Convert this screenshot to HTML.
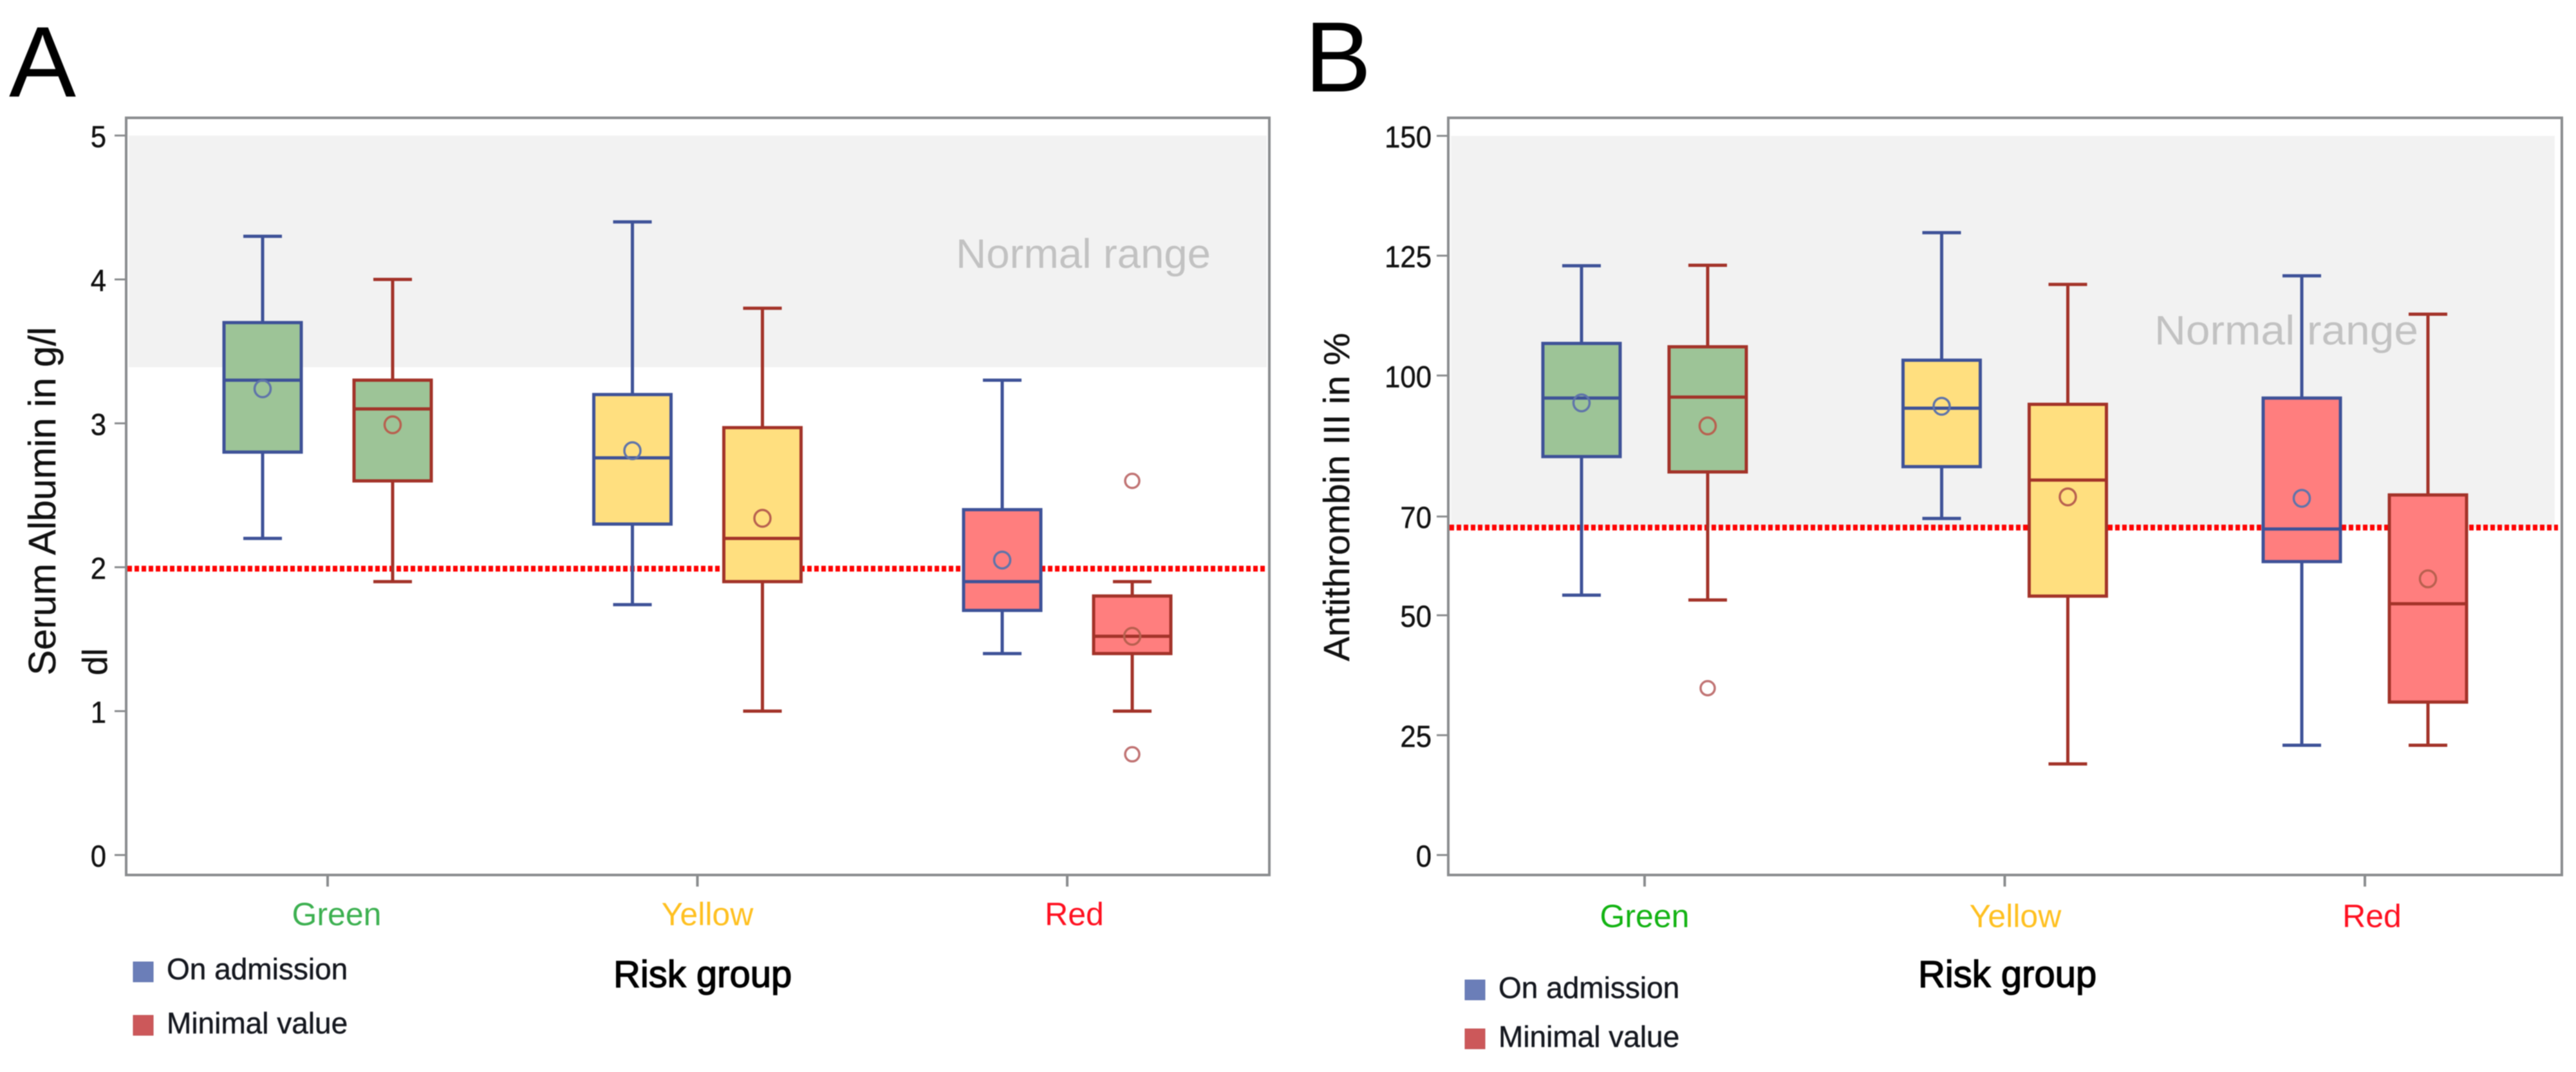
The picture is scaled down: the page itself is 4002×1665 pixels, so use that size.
<!DOCTYPE html>
<html lang="en">
<head>
<meta charset="utf-8">
<title>Serum Albumin and Antithrombin III by risk group</title>
<style>
  html, body { margin: 0; padding: 0; background: #fff; }
  #figure { display: block; filter: blur(0.8px); }
  text { font-family: "Liberation Sans", sans-serif; }
</style>
</head>
<body>
<svg id="figure" xmlns="http://www.w3.org/2000/svg" width="4002" height="1665" viewBox="0 0 4002 1665">
  <rect x="0" y="0" width="4002" height="1665" fill="#ffffff"/>

  <text x="14" y="150" font-size="156" fill="#000">A</text>
  <g id="a-back"></g>
  <text x="1485" y="416" font-size="64" fill="#c2c2c2" textLength="396" lengthAdjust="spacingAndGlyphs">Normal range</text>
  <g id="a-marks"></g>
  <text transform="translate(86,1049) rotate(-90)" font-size="59" fill="#111" stroke="#111" stroke-width="0.4">Serum Albumin in g/l</text>
  <text transform="translate(166,1049) rotate(-90)" font-size="54" fill="#111" stroke="#111" stroke-width="0.4">dl</text>
  <text x="953" y="1533" font-size="58" fill="#000" stroke="#000" stroke-width="1.4">Risk group</text>
  <rect x="207" y="1494" width="31" height="31" fill="#6b7eb8" stroke="#5f72ae" stroke-width="1"/>
  <text x="259" y="1521" font-size="46" fill="#15181f" stroke="#15181f" stroke-width="0.5">On admission</text>
  <rect x="207" y="1577" width="31" height="31" fill="#cc585a" stroke="#c05052" stroke-width="1"/>
  <text x="259" y="1605" font-size="46" fill="#15181f" stroke="#15181f" stroke-width="0.5">Minimal value</text>

  <text x="2027" y="142" font-size="155" fill="#000">B</text>
  <g id="b-back"></g>
  <text x="3347" y="535" font-size="64" fill="#c2c2c2" textLength="410" lengthAdjust="spacingAndGlyphs">Normal range</text>
  <g id="b-marks"></g>
  <text transform="translate(2096,1027) rotate(-90)" font-size="57" fill="#111" stroke="#111" stroke-width="0.4">Antithrombin III in %</text>
  <text x="2980" y="1533" font-size="58" fill="#000" stroke="#000" stroke-width="1.4">Risk group</text>
  <rect x="2276" y="1522" width="31" height="31" fill="#6b7eb8" stroke="#5f72ae" stroke-width="1"/>
  <text x="2328" y="1550" font-size="46" fill="#15181f" stroke="#15181f" stroke-width="0.5">On admission</text>
  <rect x="2276" y="1598" width="31" height="31" fill="#cc585a" stroke="#c05052" stroke-width="1"/>
  <text x="2328" y="1626" font-size="46" fill="#15181f" stroke="#15181f" stroke-width="0.5">Minimal value</text>
</svg>

<script>
// ---- shared categories ----
const categories = ['Green', 'Yellow', 'Red'];
const seriesKeys = ['on-admission', 'minimal-value'];

// ---- Panel A: Serum Albumin ----
const aTicks = [0, 1, 2, 3, 4, 5];
const aTickLabels = ['0', '1', '2', '3', '4', '5'];
const aNormalRange = [3.39, 5];
const aReference = [1.99];
const aAdmHigh = [4.3, 4.4, 3.3];
const aAdmQ3 = [3.7, 3.2, 2.4];
const aAdmMedian = [3.3, 2.76, 1.9];
const aAdmQ1 = [2.8, 2.3, 1.7];
const aAdmLow = [2.2, 1.74, 1.4];
const aAdmMean = [3.24, 2.81, 2.05];
const aAdmOutliers = [[], [], []];
const aMinHigh = [4.0, 3.8, 1.9];
const aMinQ3 = [3.3, 2.97, 1.8];
const aMinMedian = [3.1, 2.2, 1.52];
const aMinQ1 = [2.6, 1.9, 1.4];
const aMinLow = [1.9, 1.0, 1.0];
const aMinMean = [2.99, 2.34, 1.52];
const aMinOutliers = [[], [], [2.6, 0.7]];

// ---- Panel B: Antithrombin III ----
const bTicks = [0, 25, 50, 70.6, 100, 125, 150];
const bTickLabels = ['0', '25', '50', '70', '100', '125', '150'];
const bNormalRange = [68.3, 150];
const bReference = [68.3];
const bAdmHigh = [122.9, 129.8, 120.8];
const bAdmQ3 = [106.7, 103.2, 95.3];
const bAdmMedian = [95.3, 93.2, 68];
const bAdmQ1 = [83.1, 81, 61.2];
const bAdmLow = [54.2, 70.2, 22.9];
const bAdmMean = [94.3, 93.6, 74.4];
const bAdmOutliers = [[], [], []];
const bMinHigh = [123, 119, 112.8];
const bMinQ3 = [106, 94, 75.1];
const bMinMedian = [95.5, 78.2, 52.4];
const bMinQ1 = [79.9, 54, 31.9];
const bMinLow = [53.2, 19, 22.9];
const bMinMean = [89.5, 74.7, 57.6];
const bMinOutliers = [[34.8], [], []];

const SVG_NS = 'http://www.w3.org/2000/svg';
const categoryFills = ['#9dc497', '#ffdf7f', '#ff7e7e'];
const seriesStrokes = ['#3e5298', '#a33329'];
const meanStrokes = ['#5f74aa', '#b8604f'];
const outlierStroke = '#c07272';
const axisColor = '#8a8c8e';

function mk(parent, tag, attrs, text) {
  const node = document.createElementNS(SVG_NS, tag);
  for (const key in attrs) node.setAttribute(key, attrs[key]);
  if (text !== undefined) node.textContent = text;
  parent.appendChild(node);
  return node;
}

function drawPanel(cfg) {
  const back = document.getElementById(cfg.id + '-back');
  const marks = document.getElementById(cfg.id + '-marks');
  const yScale = v => cfg.y0 - v * cfg.yUnit;
  const groupX = i => cfg.xStart + i * cfg.xStep;
  const boxX = (i, s) => groupX(i) + (s === 0 ? -cfg.offset : cfg.offset);

  // normal range band
  const band = mk(back, 'rect', {
    x: cfg.left + 4, y: yScale(cfg.normal[1]),
    width: cfg.right - cfg.left - 4 - cfg.bandInset, height: yScale(cfg.normal[0]) - yScale(cfg.normal[1]),
    fill: '#f2f2f2'
  });
  
  

  // frame
  const frame = mk(back, 'rect', {
    x: cfg.left, y: cfg.top, width: cfg.right - cfg.left, height: cfg.bottom - cfg.top,
    fill: 'none', stroke: axisColor, 'stroke-width': 4
  });
  
  

  // y ticks
  cfg.ticks.forEach((t, i) => {
    const y = yScale(t);
    const tick = mk(back, 'line', { x1: cfg.left - 18, x2: cfg.left, y1: y, y2: y, stroke: axisColor, 'stroke-width': 3 });
    
    
    const label = mk(back, 'text', {
      x: cfg.left - cfg.labelGap, y: y + 18, 'font-size': 47, 'text-anchor': 'end', fill: '#111',
      stroke: '#111', 'stroke-width': 0.5,
      textLength: cfg.tickLabels[i].length * 24.3, lengthAdjust: 'spacingAndGlyphs'
    }, cfg.tickLabels[i]);
    
    
  });

  // x ticks and category labels
  categories.forEach((c, i) => {
    const x = groupX(i);
    const tick = mk(back, 'line', { x1: x, x2: x, y1: cfg.bottom, y2: cfg.bottom + 18, stroke: axisColor, 'stroke-width': 4 });
    
    
    const label = mk(back, 'text', {
      x: cfg.labelX[i], y: cfg.labelY, 'font-size': 50, 'text-anchor': 'middle', fill: cfg.labelColors[i]
    }, c);
    
    
  });

  // reference line
  const ref = mk(back, 'line', {
    x1: cfg.left + 2, x2: cfg.right - 6, y1: yScale(cfg.reference[0]), y2: yScale(cfg.reference[0]),
    stroke: '#ff0000', 'stroke-width': 9, 'stroke-dasharray': '7 4'
  });
  
  

  // boxes
  cfg.series.forEach((series, s) => {
    categories.forEach((c, i) => {
      const x = boxX(i, s);
      const stroke = seriesStrokes[s];
      const tag = c.toLowerCase() + '-' + seriesKeys[s];

      const whisker = mk(marks, 'line', { x1: x, x2: x, y1: yScale(series.high[i]), y2: yScale(series.low[i]), stroke: stroke, 'stroke-width': 5 });
      
      

      const capHigh = mk(marks, 'line', { x1: x - 30, x2: x + 30, y1: yScale(series.high[i]), y2: yScale(series.high[i]), stroke: stroke, 'stroke-width': 5 });
      
      

      const capLow = mk(marks, 'line', { x1: x - 30, x2: x + 30, y1: yScale(series.low[i]), y2: yScale(series.low[i]), stroke: stroke, 'stroke-width': 5 });
      
      

      const box = mk(marks, 'rect', {
        x: x - cfg.boxHalf, y: yScale(series.q3[i]), width: cfg.boxHalf * 2,
        height: yScale(series.q1[i]) - yScale(series.q3[i]),
        fill: categoryFills[i], stroke: stroke, 'stroke-width': 5
      });
      
      

      const median = mk(marks, 'line', {
        x1: x - cfg.boxHalf, x2: x + cfg.boxHalf, y1: yScale(series.median[i]), y2: yScale(series.median[i]),
        stroke: stroke, 'stroke-width': 5
      });
      
      

      const mean = mk(marks, 'ellipse', {
        cx: x, cy: yScale(series.mean[i]), rx: 12.5, ry: 13,
        fill: 'none', stroke: meanStrokes[s], 'stroke-width': 3.5
      });
      
      

      series.outliers[i].forEach(v => {
        const dot = mk(marks, 'circle', {
          cx: x, cy: yScale(v), r: 11, fill: 'none', stroke: outlierStroke, 'stroke-width': 3.5
        });
        
        
      });
    });
  });
}

drawPanel({
  id: 'a', left: 196, right: 1972, top: 183, bottom: 1359, y0: 1328, yUnit: 223.5,
  xStart: 509, xStep: 574.5, offset: 101, boxHalf: 60, bandInset: 4, labelGap: 31,
  ticks: aTicks, tickLabels: aTickLabels, normal: aNormalRange, reference: aReference,
  labelX: [523, 1099, 1669], labelY: 1437, labelColors: ['#3cb050', '#ffc020', '#ff1020'],
  series: [
    { high: aAdmHigh, q3: aAdmQ3, median: aAdmMedian, q1: aAdmQ1, low: aAdmLow, mean: aAdmMean, outliers: aAdmOutliers },
    { high: aMinHigh, q3: aMinQ3, median: aMinMedian, q1: aMinQ1, low: aMinLow, mean: aMinMean, outliers: aMinOutliers }
  ]
});

drawPanel({
  id: 'b', left: 2250, right: 3980, top: 183, bottom: 1359, y0: 1328, yUnit: 7.447,
  xStart: 2555, xStep: 559.5, offset: 98, boxHalf: 60, bandInset: 11, labelGap: 26,
  ticks: bTicks, tickLabels: bTickLabels, normal: bNormalRange, reference: bReference,
  labelX: [2555, 3131, 3685], labelY: 1440, labelColors: ['#12b312', '#ffc020', '#ff1020'],
  series: [
    { high: bAdmHigh, q3: bAdmQ3, median: bAdmMedian, q1: bAdmQ1, low: bAdmLow, mean: bAdmMean, outliers: bAdmOutliers },
    { high: bMinHigh, q3: bMinQ3, median: bMinMedian, q1: bMinQ1, low: bMinLow, mean: bMinMean, outliers: bMinOutliers }
  ]
});
</script>
</body>
</html>
